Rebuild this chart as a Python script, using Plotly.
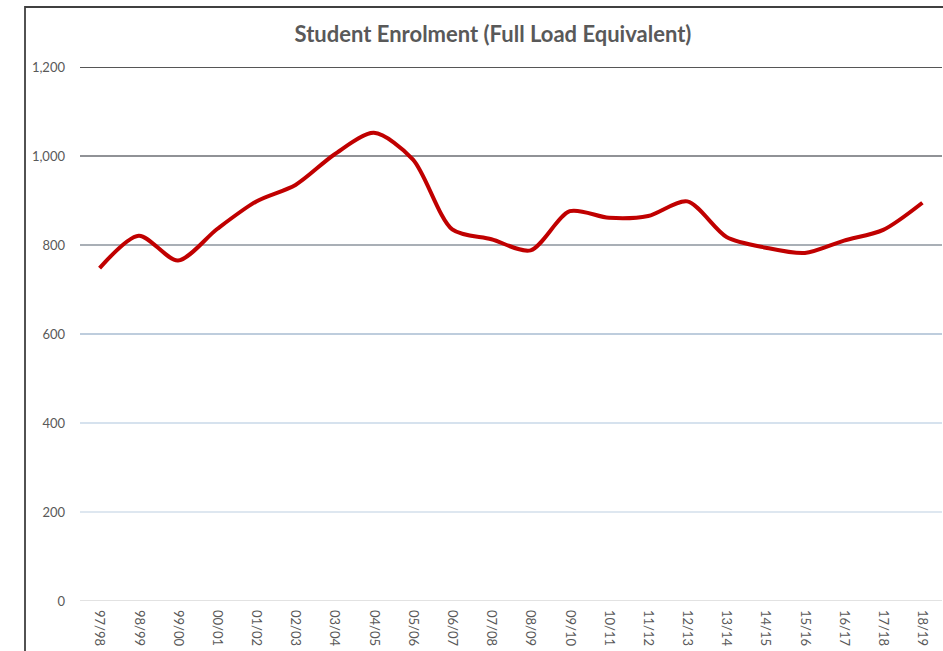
import plotly.graph_objects as go

years = ["97/98", "98/99", "99/00", "00/01", "01/02", "02/03", "03/04", "04/05",
         "05/06", "06/07", "07/08", "08/09", "09/10", "10/11", "11/12", "12/13",
         "13/14", "14/15", "15/16", "16/17", "17/18", "18/19"]
enrolment = [748, 821, 765, 836, 898, 935, 1004, 1052,
             992, 835, 813, 788, 876, 861, 865, 898,
             818, 794, 782, 810, 834, 895]
y_ticks = [0, 200, 400, 600, 800, 1000, 1200]
grid_colors = ["#d9d9d9", "#d3dfeb", "#c9d8e8", "#a9bdd2", "#8c949e", "#6b6e73", "#1e1e1e"]

TEXT = "#595959"
FONT = "Lato, 'Open Sans', sans-serif"

fig = go.Figure()
fig.add_trace(go.Scatter(
    x=years, y=enrolment, mode="lines",
    line=dict(color="#c00000", width=4, shape="spline", smoothing=0.8),
    showlegend=False, hoverinfo="x+y",
))

shapes = []
for v, c in zip(y_ticks, grid_colors):
    shapes.append(dict(type="line", xref="paper", yref="y", x0=0, x1=1, y0=v, y1=v,
                       line=dict(color=c, width=1.3), layer="below"))
# chart-area border (extends beyond the visible window to the right and bottom)
shapes.append(dict(type="rect", xref="paper", yref="paper",
                   x0=(25 - 80) / 862, x1=1.3, y0=-0.4, y1=1 + (67 - 7) / 534,
                   line=dict(color="#404040", width=1.8), fillcolor="rgba(0,0,0,0)", layer="below"))

fig.update_layout(
    width=943, height=651,
    margin=dict(l=80, r=1, t=67, b=50),
    paper_bgcolor="white", plot_bgcolor="white",
    shapes=shapes,
    title=dict(text="<b>Student Enrolment (Full Load Equivalent)</b>",
               x=493 / 943, xanchor="center", xref="container",
               y=1 - 34 / 651, yanchor="middle", yref="container",
               font=dict(family=FONT, size=22, color=TEXT)),
    font=dict(family=FONT, size=13, color=TEXT),
)
fig.update_xaxes(type="category", range=[-0.5, len(years) - 0.5],
                 showgrid=False, showline=False, zeroline=False,
                 tickangle=90, ticks="", ticklabelstandoff=8,
                 tickfont=dict(family=FONT, size=13, color=TEXT))
fig.update_yaxes(range=[0, 1200], tickvals=y_ticks, tickformat=",",
                 showgrid=False, showline=False, zeroline=False,
                 ticks="", ticklabelstandoff=14,
                 tickfont=dict(family=FONT, size=13, color=TEXT))

fig.write_html("out.html", config={"displayModeBar": False},
               post_script="document.body.style.margin='0';document.body.style.overflow='hidden';")
